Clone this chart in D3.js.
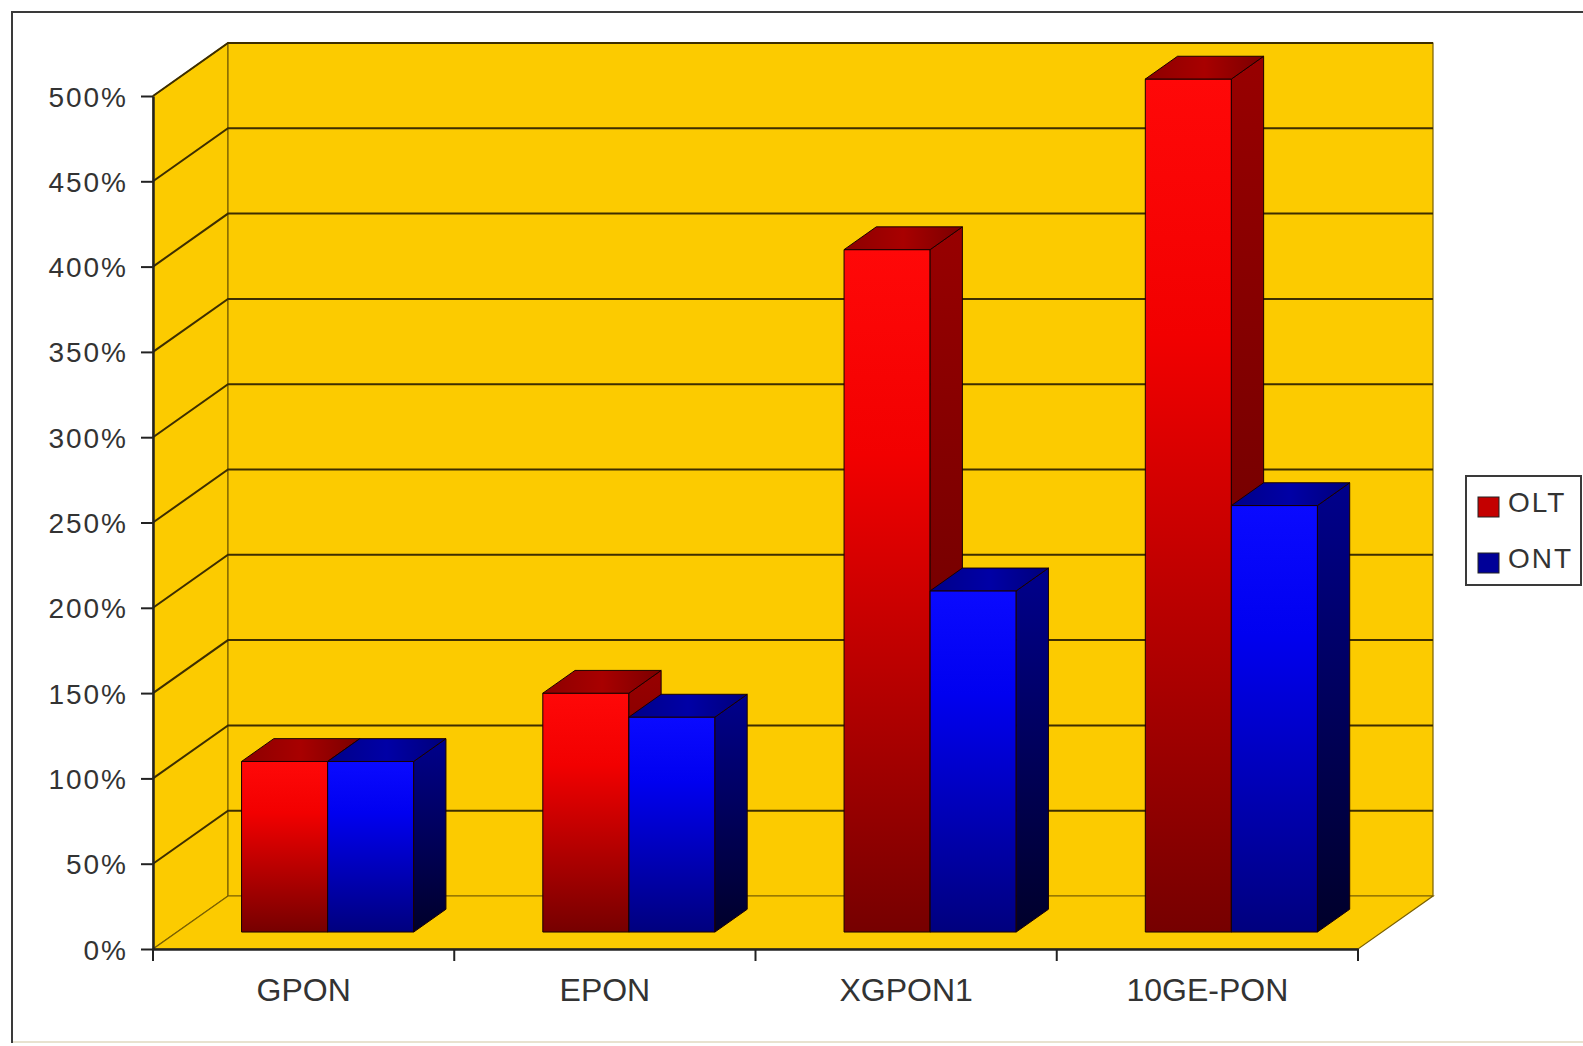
<!DOCTYPE html>
<html>
<head>
<meta charset="utf-8">
<script src="https://cdn.jsdelivr.net/npm/d3@7/dist/d3.min.js"></script>
<style>
  html, body { margin: 0; padding: 0; background: #fff; }
  svg { display: block; }
  text { font-family: "Liberation Sans", Arial, sans-serif; fill: #333; }
</style>
</head>
<body>
<script>
// Relative cost of PON equipment, OLT vs ONT, per technology
const categories = ["GPON", "EPON", "XGPON1", "10GE-PON"];
const series = ["OLT", "ONT"];
const oltValues = [100, 140, 400, 500];
const ontValues = [100, 126, 200, 250];
const yTickValues = [0, 50, 100, 150, 200, 250, 300, 350, 400, 450, 500];

const W = 1583, H = 1046;
const svg = d3.select("body").append("svg").attr("width", W).attr("height", H);
const defs = svg.append("defs");

// Front plane of the 3-D box and the depth offset of its back plane
const plotLeft = 153, plotRight = 1358, plotBottom = 949, plotTop = 96;
const DX = 75, DY = 53;
const zFront = 0.32, zBack = 0.75;   // depth span of the columns

const wallFill = "#fccb00";
const gridColor = "#3d2e00";
const edgeColor = "#7a6000";

const x = d3.scaleBand().domain(categories).range([plotLeft, plotRight]).paddingInner(0).paddingOuter(0);
const xs = d3.scaleBand().domain(series).range([0, x.bandwidth()]).paddingInner(0).paddingOuter(0.75);
const y = d3.scaleLinear().domain([0, 500]).range([plotBottom, plotTop]);

const P = (px, v, z) => [px + z * DX, y(v) - z * DY];
const poly = pts => pts.map(p => p.join(",")).join(" ");

// Chart frame
svg.append("rect").attr("x", 12).attr("y", 12).attr("width", W + 20).attr("height", 1030)
  .attr("fill", "#fff").attr("stroke", "#3a3a3a").attr("stroke-width", 2);
svg.append("line").attr("x1", 13).attr("x2", W).attr("y1", 1042).attr("y2", 1042)
  .attr("stroke", "#e8e2d0").attr("stroke-width", 2);

// Walls: side wall, back wall, floor
const walls = svg.append("g");
walls.append("polygon")
  .attr("points", poly([P(plotLeft, 0, 0), P(plotLeft, 500, 0), P(plotLeft, 500, 1), P(plotLeft, 0, 1)]))
  .attr("fill", wallFill).attr("stroke", edgeColor).attr("stroke-width", 1.2);
walls.append("polygon")
  .attr("points", poly([P(plotLeft, 0, 1), P(plotRight, 0, 1), P(plotRight, 500, 1), P(plotLeft, 500, 1)]))
  .attr("fill", wallFill).attr("stroke", edgeColor).attr("stroke-width", 1.2);
walls.append("polygon")
  .attr("points", poly([P(plotLeft, 0, 0), P(plotRight, 0, 0), P(plotRight, 0, 1), P(plotLeft, 0, 1)]))
  .attr("fill", wallFill).attr("stroke", edgeColor).attr("stroke-width", 1.2);

// Gridlines on the back wall and the side wall
const grid = svg.append("g");
yTickValues.filter(v => v > 0).forEach(v => {
  const a = P(plotLeft, v, 0), b = P(plotLeft, v, 1), c = P(plotRight, v, 1);
  grid.append("polyline").attr("points", poly([a, b, c]))
    .attr("fill", "none").attr("stroke", gridColor).attr("stroke-width", 2);
});

// Y axis
const yAxis = d3.axisLeft(y).tickValues(yTickValues).tickFormat(d => d + "%")
  .tickSizeInner(12).tickSizeOuter(0).tickPadding(13);
const gy = svg.append("g").attr("transform", `translate(${plotLeft},0)`).call(yAxis);
gy.select(".domain").attr("stroke", "#222").attr("stroke-width", 2.5);
gy.selectAll(".tick line").attr("stroke", "#222").attr("stroke-width", 2);
gy.selectAll(".tick text").attr("font-size", 28).style("letter-spacing", "2px")
  .attr("fill", "#333").attr("dy", "0.36em");

// X axis: labels at band centres, tick marks at band boundaries
const xAxis = d3.axisBottom(x).tickSize(0).tickPadding(29);
const gx = svg.append("g").attr("transform", `translate(0,${plotBottom})`).call(xAxis);
gx.select(".domain").attr("stroke", "#222").attr("stroke-width", 2.5);
gx.selectAll(".tick text").attr("font-size", 32).attr("fill", "#333");
const boundaries = categories.map(c => x(c)).concat([plotRight]);
gx.selectAll(".bound").data(boundaries).join("line").attr("class", "bound")
  .attr("x1", d => d).attr("x2", d => d).attr("y1", 0).attr("y2", 12)
  .attr("stroke", "#222").attr("stroke-width", 2);

// Shading for the column faces
function vgrad(id, stops) {
  const g = defs.append("linearGradient").attr("id", id)
    .attr("x1", 0).attr("y1", 0).attr("x2", 0).attr("y2", 1);
  stops.forEach(([o, c]) => g.append("stop").attr("offset", o).attr("stop-color", c));
}
function hgrad(id, stops) {
  const g = defs.append("linearGradient").attr("id", id)
    .attr("x1", 0).attr("y1", 0).attr("x2", 1).attr("y2", 0);
  stops.forEach(([o, c]) => g.append("stop").attr("offset", o).attr("stop-color", c));
}
vgrad("olt-front", [[0, "#ff0808"], [0.3, "#f20000"], [1, "#760000"]]);
vgrad("olt-side", [[0, "#980000"], [1, "#5a0000"]]);
hgrad("olt-top", [[0, "#8c0000"], [0.5, "#a80000"], [1, "#7a0000"]]);
vgrad("ont-front", [[0, "#0a0aff"], [0.3, "#0000f0"], [1, "#00007e"]]);
vgrad("ont-side", [[0, "#00008c"], [1, "#00002a"]]);
hgrad("ont-top", [[0, "#000088"], [0.5, "#0000a6"], [1, "#00007a"]]);

const valuesBySeries = { OLT: oltValues, ONT: ontValues };
const bars = [];
categories.forEach((c, i) => {
  series.forEach(s => bars.push({ cat: c, key: s, value: valuesBySeries[s][i] }));
});

const barG = svg.append("g");
const barGroups = barG.selectAll("g.bar").data(bars).join("g").attr("class", "bar");
barGroups.each(function (d) {
  const g = d3.select(this);
  const xl = x(d.cat) + xs(d.key), xr = xl + xs.bandwidth();
  const id = d.key.toLowerCase();
  const stroke = "#1a0000";
  g.append("polygon")
    .attr("points", poly([P(xl, 0, zFront), P(xr, 0, zFront), P(xr, d.value, zFront), P(xl, d.value, zFront)]))
    .attr("fill", `url(#${id}-front)`).attr("stroke", stroke).attr("stroke-width", 1);
  g.append("polygon")
    .attr("points", poly([P(xr, 0, zFront), P(xr, 0, zBack), P(xr, d.value, zBack), P(xr, d.value, zFront)]))
    .attr("fill", `url(#${id}-side)`).attr("stroke", stroke).attr("stroke-width", 1);
  g.append("polygon")
    .attr("points", poly([P(xl, d.value, zFront), P(xr, d.value, zFront), P(xr, d.value, zBack), P(xl, d.value, zBack)]))
    .attr("fill", `url(#${id}-top)`).attr("stroke", stroke).attr("stroke-width", 1);
});

// Legend
const legend = svg.append("g");
legend.append("rect").attr("x", 1466).attr("y", 476).attr("width", 115).attr("height", 109)
  .attr("fill", "#fff").attr("stroke", "#3a3a3a").attr("stroke-width", 2);
const swatch = { OLT: "#c40000", ONT: "#000098" };
const items = legend.selectAll("g.item").data(series).join("g").attr("class", "item")
  .attr("transform", (d, i) => `translate(0,${i * 56})`);
items.append("rect").attr("x", 1478).attr("y", 497).attr("width", 21).attr("height", 20)
  .attr("fill", d => swatch[d]).attr("stroke", "#222").attr("stroke-width", 1);
items.append("text").attr("x", 1508).attr("y", 512).attr("font-size", 28)
  .style("letter-spacing", "2px").text(d => d);
</script>
</body>
</html>
